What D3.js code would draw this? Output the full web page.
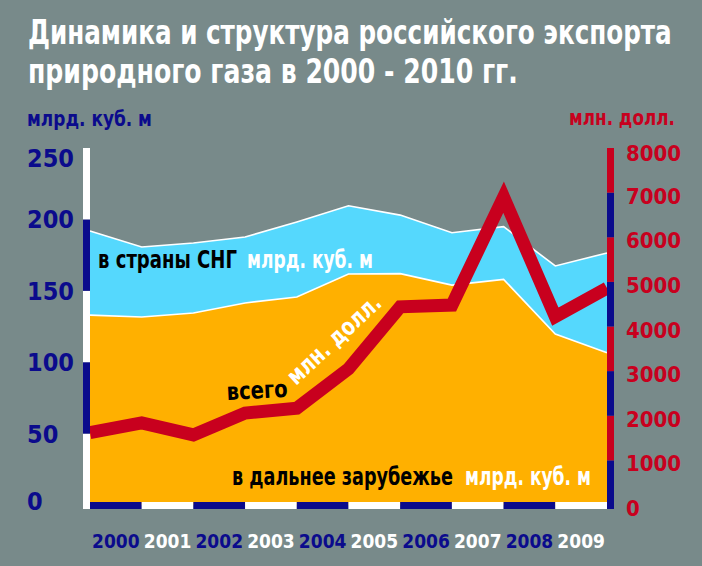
<!DOCTYPE html>
<html>
<head>
<meta charset="utf-8">
<script src="https://cdn.jsdelivr.net/npm/d3@7"></script>
<style>
    body { margin: 0; background: #788a8a; }
    svg { display: block; }
    text { font-weight: bold; }
</style>
</head>
<body>
<div class="chart"></div>
<script>
// данные
const pointYears = [2000, 2001, 2002, 2003, 2004, 2005, 2006, 2007, 2008, 2009, 2010]
const farAbroad = [133, 131.7, 134.5, 141.5, 145.7, 161.8, 162, 154, 158, 119.7, 106.6]
const cis = [58.9, 49, 49, 46.2, 52.5, 47.7, 41, 36.7, 36.9, 47.7, 69.9]
const totalUsd = [1620, 1840, 1570, 2060, 2170, 3050, 4440, 4480, 6900, 4220, 4860]

const yearLabels = ['2000', '2001', '2002', '2003', '2004', '2005', '2006', '2007', '2008', '2009']
const leftTicks = [0, 50, 100, 150, 200, 250]
const rightTicks = [0, 1000, 2000, 3000, 4000, 5000, 6000, 7000, 8000]

const width = 702
const height = 566
const narrow = "'Liberation Sans Narrow', 'DejaVu Sans Condensed', 'Roboto Condensed', sans-serif"
const cond = "'DejaVu Sans Condensed', 'Liberation Sans Narrow', sans-serif"

const navy = '#0b0b8c'
const red = '#c8001e'
const orange = '#ffb000'
const blue = '#55d8fd'

const svg = d3.select('.chart').append('svg')
    .attr('width', width)
    .attr('height', height)

svg.append('rect')
    .attr('width', width)
    .attr('height', height)
    .attr('fill', '#788a8a')

const x = d3.scaleLinear().domain([2000, 2010]).range([90, 607])
const yL = d3.scaleLinear().domain([0, 250]).range([505, 148])
const yR = d3.scaleLinear().domain([0, 8000]).range([505, 148])

// текст сжимается по ширине через transform, а не textLength
const fitText = (txt, xx, yy, len, size, color, rot) => {
    const t = svg.append('text')
        .attr('fill', color)
        .style('font-family', narrow)
        .style('font-size', size + 'px')
        .text(txt)
    const w = t.node().getComputedTextLength()
    t.attr('transform', 'translate(' + xx + ',' + yy + ') rotate(' + (rot || 0) + ') scale(' + (len / w) + ',1)')
    return t
}

// заголовок
fitText('Динамика и структура российского экспорта', 28, 43.5, 644, 34, '#fff')
fitText('природного газа в 2000 - 2010 гг.', 28, 83, 490, 34, '#fff')

// области
const rows = pointYears.map((yr, i) => ({ year: yr, far: farAbroad[i], cis: cis[i] }))
const stacked = d3.stack().keys(['far', 'cis'])(rows)
const area = d3.area()
    .x(d => x(d.data.year))
    .y0(d => yL(d[0]))
    .y1(d => yL(d[1]))
const topLine = d3.line()
    .x(d => x(d.data.year))
    .y(d => yL(d[1]))

svg.selectAll('.area').data(stacked).enter().append('path')
    .attr('class', 'area')
    .attr('d', area)
    .attr('fill', (d, i) => i == 0 ? orange : blue)

svg.selectAll('.edge').data(stacked).enter().append('path')
    .attr('class', 'edge')
    .attr('d', topLine)
    .attr('fill', 'none')
    .attr('stroke', '#fff')
    .attr('stroke-width', 1.6)

// линия в млн. долл.
svg.append('clipPath').attr('id', 'plot')
    .append('rect')
    .attr('x', 90).attr('y', 100)
    .attr('width', 517).attr('height', 405)

const usdLine = d3.line()
    .x((d, i) => x(pointYears[i]))
    .y(d => yR(d))

svg.append('path')
    .datum(totalUsd)
    .attr('d', usdLine)
    .attr('clip-path', 'url(#plot)')
    .attr('fill', 'none')
    .attr('stroke', red)
    .attr('stroke-width', 13)
    .attr('stroke-linejoin', 'miter')
    .attr('stroke-miterlimit', 6)

// левая ось - полосы
const leftSeg = d3.pairs(leftTicks)
svg.selectAll('.lseg').data(leftSeg).enter().append('rect')
    .attr('class', 'lseg')
    .attr('x', 83)
    .attr('width', 7)
    .attr('y', d => yL(d[1]))
    .attr('height', d => yL(d[0]) - yL(d[1]) + (d[0] == 0 ? 4 : 0))
    .attr('fill', (d, i) => i % 2 ? navy : '#fff')

// правая ось - полосы
const rightSeg = d3.pairs(rightTicks)
svg.selectAll('.rseg').data(rightSeg).enter().append('rect')
    .attr('class', 'rseg')
    .attr('x', 607)
    .attr('width', 7)
    .attr('y', d => yR(d[1]))
    .attr('height', d => yR(d[0]) - yR(d[1]) + (d[0] == 0 ? 4 : 0))
    .attr('fill', (d, i) => i % 2 ? red : navy)

// нижняя ось - полосы по годам
svg.selectAll('.bseg').data(yearLabels).enter().append('rect')
    .attr('class', 'bseg')
    .attr('x', d => x(+d))
    .attr('width', d => x(+d + 1) - x(+d))
    .attr('y', 502)
    .attr('height', 7)
    .attr('fill', (d, i) => i % 2 ? '#fff' : navy)

svg.selectAll('.year').data(yearLabels).enter().append('text')
    .attr('class', 'year')
    .attr('x', d => x(+d + 0.5))
    .attr('y', 548)
    .attr('text-anchor', 'middle')
    .attr('fill', (d, i) => i % 2 ? '#fff' : navy)
    .style('font-family', cond)
    .style('font-size', '19px')
    .text(d => d)

// подписи шкал
svg.selectAll('.ltick').data(leftTicks).enter().append('text')
    .attr('class', 'ltick')
    .attr('x', 27)
    .attr('y', d => Math.min(Math.max(yL(d), 158), 501) + 9)
    .attr('fill', navy)
    .style('font-family', cond)
    .style('font-size', '25px')
    .text(d => d)

svg.selectAll('.rtick').data(rightTicks).enter().append('text')
    .attr('class', 'rtick')
    .attr('x', 626)
    .attr('y', d => Math.max(yR(d) + 3, 153) + 8)
    .attr('fill', red)
    .style('font-family', cond)
    .style('font-size', '22px')
    .text(d => d)

// единицы
fitText('млрд. куб. м', 27, 126, 125, 21, navy)
fitText('млн. долл.', 569, 125, 106, 21, red)

// подписи внутри
fitText('в страны СНГ', 98, 268, 139, 24, '#000')
fitText('млрд. куб. м', 247, 268, 126, 24, '#fff')
fitText('в дальнее зарубежье', 232, 485, 221, 24, '#000')
fitText('млрд. куб. м', 465, 485, 126, 24, '#fff')
fitText('всего', 227, 400, 61, 24, '#000', -3)
fitText('млн. долл.', 296, 386, 119, 24, '#fff', -43)
</script>
</body>
</html>
